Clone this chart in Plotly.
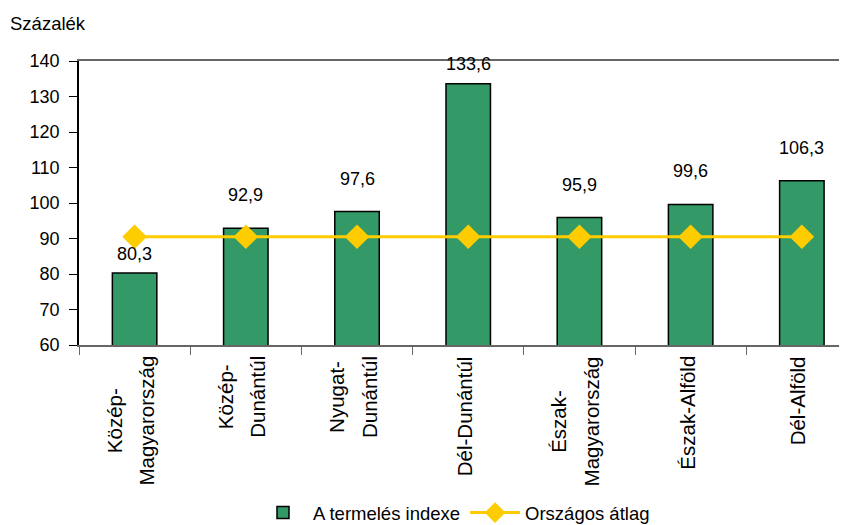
import plotly.graph_objects as go

# data
regions = ["Közép-\nMagyarország", "Közép-\nDunántúl", "Nyugat-\nDunántúl", "Dél-Dunántúl",
           "Észak-\nMagyarország", "Észak-Alföld", "Dél-Alföld"]
index_values = [80.3, 92.9, 97.6, 133.6, 95.9, 99.6, 106.3]
national_avg = [90.5, 90.5, 90.5, 90.5, 90.5, 90.5, 90.5]
y_ticks = [60, 70, 80, 90, 100, 110, 120, 130, 140]

# vertical offset (px) of each value label above its bar
label_shift = [19, 33, 33, 20, 33, 33, 33]

FONT = "Arial, Liberation Sans, sans-serif"
GREEN = "#339966"
GOLD = "#FFCC00"

# the page body has an 8px margin, so the figure is drawn 8px smaller
W, H = 839, 517

cats = [r.replace("\n", " ") for r in regions]

fig = go.Figure()

fig.add_trace(go.Bar(
    x=cats,
    y=index_values,
    name="A termelés indexe",
    marker=dict(color=GREEN, line=dict(color="black", width=1.5)),
))

fig.add_trace(go.Scatter(
    x=cats,
    y=national_avg,
    name="Országos átlag",
    mode="lines+markers",
    line=dict(color=GOLD, width=3),
    marker=dict(symbol="diamond", size=19, color=GOLD),
))

# value labels above the bars
for c, v, s in zip(cats, index_values, label_shift):
    fig.add_annotation(
        x=c, y=v, xref="x", yref="y",
        text=f"{v:.1f}".replace(".", ","),
        showarrow=False, yanchor="middle", yshift=s,
        font=dict(family=FONT, size=18, color="black"),
    )

# rotated category labels (wider line spacing than plotly ticks give)
for c, r in zip(cats, regions):
    lines = r.split("\n")
    txt = "<br>".join(f"<span style='font-size:20.5px'>{ln}</span>" for ln in lines)
    fig.add_annotation(
        x=c, y=0, xref="x", yref="paper",
        text=txt, textangle=-90, align="center",
        showarrow=False, xanchor="center", yanchor="top",
        yshift=-9, xshift=-4,
        font=dict(family=FONT, size=25, color="black"),
    )

fig.update_layout(
    width=W,
    height=H,
    margin=dict(l=71, r=0, t=53, b=180),
    paper_bgcolor="white",
    plot_bgcolor="white",
    bargap=0.6,
    font=dict(family=FONT, size=18, color="black"),
    title=dict(
        text="Százalék",
        xref="container", yref="container",
        x=2 / W, xanchor="left",
        y=1 - 16 / H, yanchor="middle",
        font=dict(family=FONT, size=18.5, color="black"),
    ),
    showlegend=True,
    legend=dict(
        orientation="h",
        xref="container", yref="container",
        x=446 / W, xanchor="center",
        y=1 - 505 / H, yanchor="middle",
        font=dict(family=FONT, size=18.5, color="black"),
        itemwidth=50,
    ),
)

fig.update_xaxes(
    type="category",
    range=[-0.5, 6.406],
    showticklabels=False,
    ticks="outside",
    tickson="boundaries",
    ticklen=8,
    tickcolor="#666666",
    showline=True,
    linecolor="#666666",
    linewidth=1.5,
    mirror=True,
    showgrid=False,
    zeroline=False,
)

fig.update_yaxes(
    range=[60, 140],
    tickvals=y_ticks,
    ticks="outside",
    ticklen=8,
    tickcolor="black",
    ticklabelstandoff=6,
    showline=True,
    linecolor="black",
    linewidth=1.5,
    showgrid=False,
    zeroline=False,
    tickfont=dict(family=FONT, size=18, color="black"),
)

fig.write_html("out.html")
